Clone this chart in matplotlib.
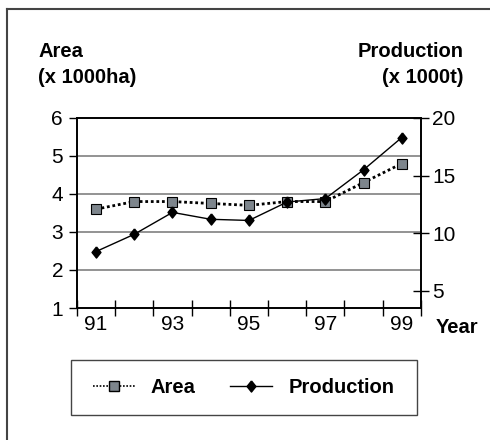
import matplotlib.pyplot as plt
from matplotlib.patches import Rectangle
from matplotlib.lines import Line2D

plt.rcParams['font.family'] = ['Liberation Sans', 'DejaVu Sans']

years = ['91', '92', '93', '94', '95', '96', '97', '98', '99']
area = [3.6, 3.8, 3.8, 3.75, 3.7, 3.8, 3.8, 4.3, 4.8]
production = [8.4, 9.9, 11.8, 11.2, 11.1, 12.7, 13.0, 15.5, 18.3]
left_ticks = [1, 2, 3, 4, 5, 6]
right_ticks = [5, 10, 15, 20]

# diamond a bit narrower than tall
diamond = [(0, 1), (0.8, 0), (0, -1), (-0.8, 0), (0, 1)]

fig = plt.figure(figsize=(4.9, 4.4), dpi=100, facecolor='w')
ax1 = fig.add_axes([0.157, 0.30, 0.702, 0.432])
ax2 = ax1.twinx()

xs = list(range(len(years)))
ax1.plot(xs, area, color='black', lw=2, linestyle=(0, (1, 1)),
         marker='s', markersize=7.5, markerfacecolor='#7d858c',
         markeredgecolor='black', markeredgewidth=0.8, zorder=3)
ax2.plot(xs, production, color='black', lw=1, marker=diamond, markersize=8,
         markerfacecolor='black', markeredgecolor='black', zorder=3)

ax1.set_ylim(1, 6)
ax2.set_ylim(3.5, 20)
ax1.set_xlim(-0.5, len(years) - 0.5)

ax1.set_yticks(left_ticks)
ax2.set_yticks(right_ticks)
for y in left_ticks[1:-1]:
    ax1.axhline(y, color='#808080', lw=1.2, zorder=1)

# tick marks at category boundaries, labels every other year
ax1.set_xticks([i - 0.5 for i in range(len(years) + 1)])
ax1.set_xticklabels([])
ax1.set_xticks(xs[::2], minor=True)
ax1.set_xticklabels(years[::2], minor=True)
ax1.tick_params(axis='x', which='major', direction='inout', length=12, width=1)
ax1.tick_params(axis='x', which='minor', length=0, labelsize=15, pad=5)
ax1.tick_params(axis='y', direction='out', length=6, width=1, labelsize=15, pad=4)
ax2.tick_params(axis='y', direction='inout', length=12, width=1, labelsize=15, pad=2)

for ax in (ax1, ax2):
    for s in ax.spines.values():
        s.set_linewidth(1.2)
        s.set_color('black')

bold = {'fontsize': 14.5, 'fontweight': 'bold', 'va': 'center'}
fig.text(0.078, 0.882, 'Area', **bold)
fig.text(0.078, 0.825, '(x 1000ha)', **bold)
fig.text(0.946, 0.882, 'Production', ha='right', **bold)
fig.text(0.946, 0.825, '(x 1000t)', ha='right', **bold)
fig.text(0.889, 0.255, 'Year', **bold)

# legend with its own frame
fig.patches.append(Rectangle((0.145, 0.057), 0.706, 0.125, transform=fig.transFigure,
                             fill=False, edgecolor='#444444', lw=1))
h1 = Line2D([], [], color='black', lw=1.2, linestyle=(0, (1, 1)), marker='s',
            markersize=7, markerfacecolor='#7d858c', markeredgecolor='black')
h2 = Line2D([], [], color='black', lw=1, marker=diamond, markersize=8,
            markerfacecolor='black')
fig.legend([h1, h2], ['Area', 'Production'], loc='center',
           bbox_to_anchor=(0.497, 0.12), ncol=2, frameon=False,
           prop={'size': 14.5, 'weight': 'bold'}, handlelength=2.1,
           columnspacing=1.7, handletextpad=0.8)

# page border, only top and left edges are visible
fig.add_artist(Line2D([0.014, 1.0], [0.98, 0.98], transform=fig.transFigure,
                      color='#444444', lw=1.5))
fig.add_artist(Line2D([0.014, 0.014], [0.0, 0.98], transform=fig.transFigure,
                      color='#444444', lw=1.5))

plt.savefig('out.png', dpi=100)
